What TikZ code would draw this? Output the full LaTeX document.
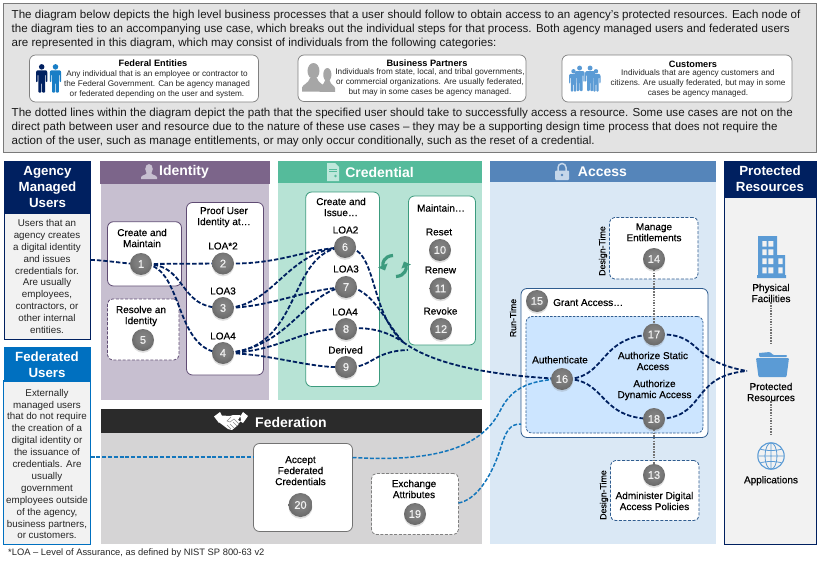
\documentclass[tikz,border=0pt]{standalone}
\usepackage{fontspec}
\setmainfont{Liberation Sans}
\newfontfamily\semib[FakeBold=0.4]{Liberation Sans}
\usetikzlibrary{shadows,arrows.meta}
\pgfdeclarelayer{back}\pgfdeclarelayer{mid}
\pgfsetlayers{back,mid,main}
\definecolor{navy}{HTML}{002060}
\definecolor{fedblue}{HTML}{0070C0}
\definecolor{linkblue}{HTML}{1376BC}
\definecolor{icoblue}{HTML}{5B9BD5}
\definecolor{idb}{RGB}{199,191,208}
\definecolor{idh}{RGB}{124,101,138}
\definecolor{idl}{RGB}{95,75,115}
\definecolor{crb}{RGB}{183,227,213}
\definecolor{crh}{RGB}{85,187,155}
\definecolor{crl}{RGB}{60,155,126}
\definecolor{crp}{RGB}{190,232,219}
\definecolor{acb}{RGB}{218,232,245}
\definecolor{ach}{RGB}{85,133,186}
\definecolor{acl}{RGB}{47,92,143}
\definecolor{acp}{RGB}{197,215,234}
\definecolor{authb}{RGB}{204,229,255}
\definecolor{feb}{RGB}{213,212,213}
\definecolor{feh}{RGB}{43,43,43}
\pgfdeclareradialshading{ballg}{\pgfpoint{0bp}{6bp}}{%
 color(0bp)=(black!48); color(16bp)=(black!52); color(30bp)=(black!60); color(42bp)=(black!70); color(54bp)=(black!80); color(70bp)=(black!84)}
\newcommand\regionbox[6]{%
 \pgfmathsetmacro\rcx{(#3+#5)/2}\pgfmathsetmacro\rcy{(#4+#6)/2}%
 \pgfmathsetmacro\rwd{#5-#3}\pgfmathsetmacro\rht{#6-#4}%
 \node[#2,anchor=center,inner sep=0pt,outer sep=0pt,minimum width=\rwd pt,minimum height=\rht pt] (#1) at (\rcx,\rcy) {};}
\newcommand\figperson[4]{% x,y,scale,colour
 \begin{scope}[shift={(#1,#2)},scale=#3]
 \fill[#4] (6,3) circle[radius=2.9];
 \fill[#4,rounded corners=0.8pt] (1,6.6) -- (11,6.6) -- (12,8.5) -- (12,19) -- (10.4,19) -- (10.4,11) -- (9.6,11) -- (9.6,30) -- (6.4,30) -- (6.4,20) -- (5.6,20) -- (5.6,30) -- (2.4,30) -- (2.4,11) -- (1.6,11) -- (1.6,19) -- (0,19) -- (0,8.5) -- cycle;
 \end{scope}}
\newcommand\bust[4]{% x,y,scale options,colour
 \begin{scope}[shift={(#1,#2)},#3]
 \fill[#4] (14,9.7) ellipse[x radius=7.3,y radius=9.7];
 \fill[#4] (0,35) -- (0,30) .. controls (1,26) and (8,25) .. (10,18) -- (18,18) .. controls (20,25) and (27,26) .. (28,30) -- (28,35) -- cycle;
 \end{scope}}
\tikzset{
 hdr/.style={fill=#1,draw=none},
 hdrtxt/.style={font=\fontsize{13.3}{16}\selectfont\bfseries,text=white,align=center,inner sep=0pt},
 bandtxt/.style={font=\fontsize{14}{16}\selectfont\bfseries,text=white,align=center,inner sep=0pt},
 bodytxt/.style={font=\fontsize{9.8}{11.9}\selectfont,text=black!85,align=center,inner sep=0pt},
 paratxt/.style={font=\fontsize{11.58}{14}\selectfont,text=black!90,align=left,inner sep=0pt,anchor=west},
 cattitle/.style={font=\fontsize{9.2}{11}\selectfont\bfseries,inner sep=0pt},
 cattxt/.style={font=\fontsize{8.2}{10}\selectfont,text=black!85,align=center,inner sep=0pt},
 catbox/.style={draw=black!50,fill=white,rounded corners=6pt,line width=0.7pt},
 lbl/.style={font=\fontsize{10}{11}\selectfont\semib,align=center,inner sep=0pt},
 sidetxt/.style={font=\fontsize{8.8}{10}\selectfont\semib,rotate=90,inner sep=0pt},
 sbox/.style={draw=#1,fill=white,rounded corners=6pt,line width=0.8pt},
 dbox/.style={draw=#1,fill=white,rounded corners=5pt,line width=0.8pt,dash pattern=on 3pt off 1.6pt},
 ballnode/.style={circle,shading=ballg,minimum size=22pt,inner sep=0pt,text=white!95!black,font=\fontsize{11}{12}\selectfont\semib,drop shadow={shadow xshift=0pt,shadow yshift=-1.8pt,opacity=.25}},
 dlink/.style={draw=navy,line width=1.8pt,dash pattern=on 4.4pt off 2pt},
 blink/.style={draw=linkblue,line width=1.5pt,dash pattern=on 4pt off 1.8pt},
 dotlink/.style={draw=black!55,line width=1.5pt,dash pattern=on 1.5pt off 1.2pt},
 iconspot/.style={inner sep=0pt,minimum width=#1},
}
\begin{document}
\begin{tikzpicture}[x=1pt,y=-1pt]
\useasboundingbox (0,0) rectangle (823,562);
\begin{pgfonlayer}{back}
\fill[white] (0,0) rectangle (823,562);
% intro panel
\regionbox{intro}{fill=black!11,draw=black!52,line width=1pt}{3.5}{3.5}{816}{152.5}
\regionbox{catfed}{catbox}{29.5}{55}{258.5}{102}
\regionbox{catbus}{catbox}{298}{55}{526}{101.5}
\regionbox{catcus}{catbox}{562}{55}{792}{102}
% user columns
\regionbox{agbody}{fill=black!5,draw=navy,line width=0.9pt}{4.5}{212}{90.5}{339}
\regionbox{aghead}{hdr=navy}{4}{161}{91}{214}
\regionbox{fedbody}{fill=black!5,draw=fedblue,line width=0.9pt}{3.8}{380}{90.5}{544}
\regionbox{fedhead}{hdr=fedblue}{3.5}{347}{91}{382}
% process panels
\regionbox{idbody}{fill=idb}{101}{183}{269}{400}
\regionbox{idhead}{hdr=idh}{100}{161}{270}{184}
\regionbox{crbody}{fill=crb}{278}{182}{482}{400}
\regionbox{crhead}{hdr=crh}{278}{161}{482}{183}
\regionbox{acbody}{fill=acb}{490}{181}{716}{544}
\regionbox{achead}{hdr=ach}{490}{161}{716}{182}
\regionbox{prbody}{fill=black!5,draw=navy,line width=0.9pt}{724.5}{197}{816}{544}
\regionbox{prhead}{hdr=navy}{724}{161}{816.5}{198}
\regionbox{febody}{fill=feb}{101}{432}{482}{544}
\regionbox{fehead}{hdr=feh}{101}{409}{482}{433}
% inner boxes
\regionbox{bcreate}{sbox=idl}{107.5}{221.7}{181.5}{286}
\regionbox{bresolve}{dbox=idl}{107.5}{299}{179}{360}
\regionbox{bproof}{sbox=idl}{186.5}{202.5}{263.5}{375}
\regionbox{bissue}{sbox=crl}{305.7}{192}{379.5}{386.5}
\regionbox{bmaint}{sbox=crl}{408.5}{196}{475.5}{345}
\regionbox{bmanage}{dbox=acl}{609.5}{217.5}{698}{279}
\regionbox{brun}{sbox=acl}{521}{288.5}{708}{437.5}
\regionbox{bauth}{fill=authb,draw=acl,rounded corners=6pt,line width=0.7pt,dash pattern=on 2.5pt off 1.3pt}{526}{316.5}{703}{433}
\regionbox{badmin}{dbox=acl}{610.5}{460.5}{699}{520.5}
\regionbox{baccept}{sbox=black!55}{253.5}{443.5}{352.5}{531.5}
\regionbox{bexch}{dbox=black!50}{371.5}{473.5}{458.5}{534.5}
\end{pgfonlayer}
% intro text
\node[paratxt] (intro1) at (11.5,29.5) {The diagram below depicts the high level business processes that a user should follow to obtain access to an agency’s protected resources. Each node of\\the diagram ties to an accompanying use case, which breaks out the individual steps for that process. Both agency managed users and federated users\\are represented in this diagram, which may consist of individuals from the following categories:};
\node[paratxt] (intro2) at (11.5,127.5) {The dotted lines within the diagram depict the path that the specified user should take to successfully access a resource. Some use cases are not on the\\direct path between user and resource due to the nature of these use cases – they may be a supporting design time process that does not require the\\action of the user, such as manage entitlements, or may only occur conditionally, such as the reset of a credential.};
\node[cattitle] (tfed) at (153,63.5) {Federal Entities};
\node[cattxt] (xfed) at (157,84) {Any individual that is an employee or contractor to\\the Federal Government. Can be agency managed\\or federated depending on the user and system.};
\node[cattitle] (tbus) at (427,63.5) {Business Partners};
\node[cattxt] (xbus) at (430,82) {Individuals from state, local, and tribal governments,\\or commercial organizations. Are usually federated,\\but may in some cases be agency managed.};
\node[cattitle] (tcus) at (693,64.5) {Customers};
\node[cattxt] (xcus) at (698,83) {Individuals that are agency customers and\\citizens. Are usually federated, but may in some\\cases be agency managed.};
\figperson{36}{64}{0.95}{navy}
\figperson{49.8}{64}{0.95}{fedblue!90!white}
\bust{319.5}{68}{xscale=.56,yscale=.68}{black!35}
\bust{302}{63}{scale=.82}{black!35}
\figperson{569}{69}{0.75}{icoblue}
\figperson{591.5}{69}{0.75}{icoblue}
\figperson{574.5}{65.5}{0.85}{icoblue}
\figperson{585}{65.5}{0.85}{icoblue}
% headers
\node[hdrtxt] (tag) at (47.5,187.2) {Agency\\Managed\\Users};
\node[hdrtxt] (tfd) at (47,365) {Federated\\Users};
\node[bandtxt] (tid) at (184,172) {Identity};
\node[bandtxt] (tcr) at (379.5,172) {Credential};
\node[bandtxt] (tac) at (602.5,172) {Access};
\node[hdrtxt] (tpr) at (770,179) {Protected\\Resources};
\node[bandtxt] (tfe) at (291,422) {Federation};
\node[bodytxt] (xag) at (47,276.5) {Users that an\\agency creates\\a digital identity\\and issues\\credentials for.\\Are usually\\employees,\\contractors, or\\other internal\\entities.};
\node[bodytxt] (xfd) at (47,464) {Externally\\managed users\\that do not require\\the creation of a\\digital identity or\\the issuance of\\credentials. Are\\usually\\government\\employees outside\\of the agency,\\business partners,\\or customers.};
% header icons
\fill[idb] (149,169) ellipse[x radius=3.8,y radius=5]
 (141,179) -- (141,177) .. controls (142,175) and (146,175) .. (147,173) -- (151,173) .. controls (152,175) and (156,175) .. (157,177) -- (157,179) -- cycle;
\fill[crp] (327,163) -- (335,163) -- (339,167) -- (339,181) -- (327,181) -- cycle;
\draw[crh,line width=0.7pt] (329,169) -- (337,169) (329,171) -- (337,171);
\fill[crh] (335.5,176) circle[radius=1.4];
\fill[acp,rounded corners=1pt] (555,170.5) rectangle (569,180);
\draw[acp,line width=1.5pt] (558,171) -- (558,167.5) arc[start angle=180,end angle=360,radius=4] -- (566,171);
\fill[ach] (562,175) circle[radius=1.3];
% handshake
\fill[white] (214,416.5) -- (220,412) -- (224,420) -- (219,423) -- cycle
 (248,416) -- (243,412) -- (238,420) -- (243,423) -- cycle
 (222,415.5) -- (230,416) -- (233,415) -- (240,415) -- (241,420) -- (238,425) -- (232,430) -- (228,429) -- (220,423) -- cycle;
\draw[black!45,line width=0.5pt] (231,417) -- (227,421) -- (230,422) -- (234,419) -- (239,424)
 (233,422) -- (237,426) (230,424) -- (234,428) (227,425) -- (231,429);
% labels
\node[lbl] (lcreate) at (142,238) {Create and\\Maintain};
\node[lbl] (lresolve) at (141,316) {Resolve an\\Identity};
\node[lbl] (lproof) at (224,217) {Proof User\\Identity at…};
\node[lbl] (lo2) at (223,246) {LOA*2};
\node[lbl] (lo3) at (223,291) {LOA3};
\node[lbl] (lo4) at (223,336) {LOA4};
\node[lbl] (lissue) at (341,207) {Create and\\Issue…};
\node[lbl] (lc2) at (345.5,230) {LOA2};
\node[lbl] (lc3) at (346,269) {LOA3};
\node[lbl] (lc4) at (345,312) {LOA4};
\node[lbl] (lcd) at (345.5,350) {Derived};
\node[lbl] (lmaint) at (441,208) {Maintain…};
\node[lbl] (lreset) at (439,232) {Reset};
\node[lbl] (lrenew) at (440.5,270) {Renew};
\node[lbl] (lrevoke) at (440.5,311) {Revoke};
\node[lbl] (lmanage) at (654,232.3) {Manage\\Entitlements};
\node[lbl,anchor=west] (lgrant) at (553,302.5) {Grant Access…};
\node[lbl] (lauthn) at (560,359.7) {Authenticate};
\node[lbl] (lstatic) at (653,361) {Authorize Static\\Access};
\node[lbl] (ldyn) at (654.5,390) {Authorize\\Dynamic Access};
\node[lbl] (ladmin) at (654.5,501) {Administer Digital\\Access Policies};
\node[lbl] (lphys) at (771,293) {Physical\\Facilities};
\node[lbl] (lprot) at (771,392) {Protected\\Resources};
\node[lbl] (lapps) at (771,480.7) {Applications};
\node[lbl] (laccept) at (300.5,470.7) {Accept\\Federated\\Credentials};
\node[lbl] (lexch) at (414,489) {Exchange\\Attributes};
\node[sidetxt] (sd1) at (603,251) {Design-Time};
\node[sidetxt] (sr) at (513,318) {Run-Time};
\node[sidetxt] (sd2) at (604,495) {Design-Time};
\node[font=\fontsize{9.35}{10}\selectfont,text=black!85,anchor=west,inner sep=0pt] (foot) at (8,553) {*LOA – Level of Assurance, as defined by NIST SP 800-63 v2};
% sync arrows
\draw[crl,line width=3.2pt,-{Triangle[length=5.5pt,width=10pt]}] (393,255.5) .. controls (384,256) and (382,263.5) .. (385,270.5);
\draw[crl,line width=3.2pt,-{Triangle[length=5.5pt,width=10pt]}] (396,276.5) .. controls (405,276) and (407,268.5) .. (404,261.5);
% right-hand icons
\fill[icoblue] (758,236) rectangle (777,278) (777,255) rectangle (785,278) (757,275) rectangle (786,278);
\fill[black!5] (762.3,241) rectangle (766.7,246.7) (768.3,241) rectangle (773.3,246.7)
 (762.3,249.3) rectangle (766.7,255) (768.3,249.3) rectangle (773.3,255)
 (762.3,258.3) rectangle (766.7,264) (768.3,258.3) rectangle (773.3,264) (778.3,258.3) rectangle (782.6,264)
 (762.3,267.3) rectangle (766.7,273.3) (768.3,267.3) rectangle (773.3,273.3) (778.3,267.3) rectangle (782.6,273.3);
\node[iconspot=33pt,minimum height=25pt] (folderic) at (771,364.5) {};
\fill[icoblue] (759,357) -- (759,353) [rounded corners=1pt] -- (770,352) -- (773,355) -- (787,355) -- (787,357) -- cycle;
\fill[icoblue,rounded corners=1pt] (756,358) -- (789,358) -- (786.5,377) -- (758.5,377) -- cycle;
\node[iconspot=28pt,minimum height=28pt,circle] (globe) at (771,456) {};
\draw[icoblue,line width=1.1pt] (771,456) circle[radius=13.2];
\draw[icoblue,line width=0.8pt] (771,456) ellipse[x radius=6,y radius=13.2] (771,442.8) -- (771,469.2) (757.8,456) -- (784.2,456)
 (760,449) .. controls (766,451) and (776,451) .. (782,449)
 (760,463) .. controls (766,461) and (776,461) .. (782,463);
% balls
\node[ballnode] (c1) at (141,264) {1};
\node[ballnode] (c2) at (223,263.5) {2};
\node[ballnode] (c3) at (223,308) {3};
\node[ballnode] (c4) at (223,353) {4};
\node[ballnode] (c5) at (143,340) {5};
\node[ballnode] (c6) at (345,247) {6};
\node[ballnode] (c7) at (346,287) {7};
\node[ballnode] (c8) at (346,329) {8};
\node[ballnode] (c9) at (346,367) {9};
\node[ballnode] (c10) at (440,250) {10};
\node[ballnode] (c11) at (440.5,288.5) {11};
\node[ballnode] (c12) at (441,329) {12};
\node[ballnode] (c13) at (654,475) {13};
\node[ballnode] (c14) at (654,259) {14};
\node[ballnode] (c15) at (537,301) {15};
\node[ballnode] (c16) at (562,379) {16};
\node[ballnode] (c17) at (654,334.5) {17};
\node[ballnode] (c18) at (654,419) {18};
\node[ballnode] (c19) at (415,514) {19};
\node[ballnode,minimum size=24pt] (c20) at (300.5,505) {20};
% free ends
\coordinate (agout) at (90.5,260);
\coordinate (merge) at (403,342);
\coordinate (maintin) at (408,350);
\coordinate (folderin) at (747,371);
\coordinate (fedout) at (90.5,457);
\coordinate (acceptin) at (253.5,457);
\coordinate (acceptout) at (352.5,457.5);
\coordinate (fedmid) at (500,411);
\coordinate (exchout) at (458.5,503);
\coordinate (exchmid) at (500,450);
\coordinate (runin) at (521,424);
\begin{pgfonlayer}{mid}
\draw[dlink] (agout) .. controls (105,260) and (125,264) .. (c1.center);
\draw[dlink] (c1.center) -- (c2.center);
\draw[dlink] (c1.center) .. controls (190,262) and (175,308) .. (c3.center);
\draw[dlink] (c1.center) .. controls (185,262) and (172,352) .. (c4.center);
\draw[dlink] (c2.center) .. controls (280,265) and (300,250) .. (c6.center);
\draw[dlink] (c3.center) .. controls (275,308) and (285,250) .. (c6.center);
\draw[dlink] (c3.center) .. controls (270,308) and (300,290) .. (c7.center);
\draw[dlink] (c4.center) .. controls (305,352) and (285,250) .. (c6.center);
\draw[dlink] (c4.center) .. controls (290,350) and (305,290) .. (c7.center);
\draw[dlink] (c4.center) .. controls (280,353) and (300,327) .. (c8.center);
\draw[dlink] (c4.center) .. controls (270,353) and (310,369) .. (c9.center);
\draw[dlink] (c6.center) .. controls (378,247) and (368,310) .. (merge);
\draw[dlink] (c7.center) .. controls (372,287) and (385,322) .. (merge);
\draw[dlink] (c8.center) .. controls (370,326) and (388,332) .. (merge);
\draw[dlink] (merge) .. controls (430,362) and (480,375) .. (c16.center);
\draw[dlink] (c9.center) .. controls (372,369) and (372,351) .. (maintin);
\draw[dlink] (c16.center) .. controls (608,381) and (596,336) .. (c17.center);
\draw[dlink] (c16.center) .. controls (608,377) and (596,419) .. (c18.center);
\draw[dlink] (c17.center) .. controls (705,332) and (685,360) .. (folderin);
\draw[dlink] (c18.center) .. controls (708,420) and (688,376) .. (folderin);
\draw[blink] (fedout) -- (acceptin);
\draw[blink] (acceptout) .. controls (430,462) and (480,450) .. (fedmid) .. controls (510,391) and (525,380) .. (c16.center);
\draw[blink] (exchout) .. controls (475,500) and (490,480) .. (exchmid) .. controls (506,430) and (510,424) .. (runin);
\draw[dotlink] (c14.center) -- (c17.center);
\draw[dotlink] (c18.center) -- (c13.center);
\draw[dotlink,shorten >=7pt] (lphys.south) -- (folderic.north);
\draw[dotlink,shorten >=7pt] (lprot.south) -- (globe.north);
\end{pgfonlayer}
\end{tikzpicture}
\end{document}
